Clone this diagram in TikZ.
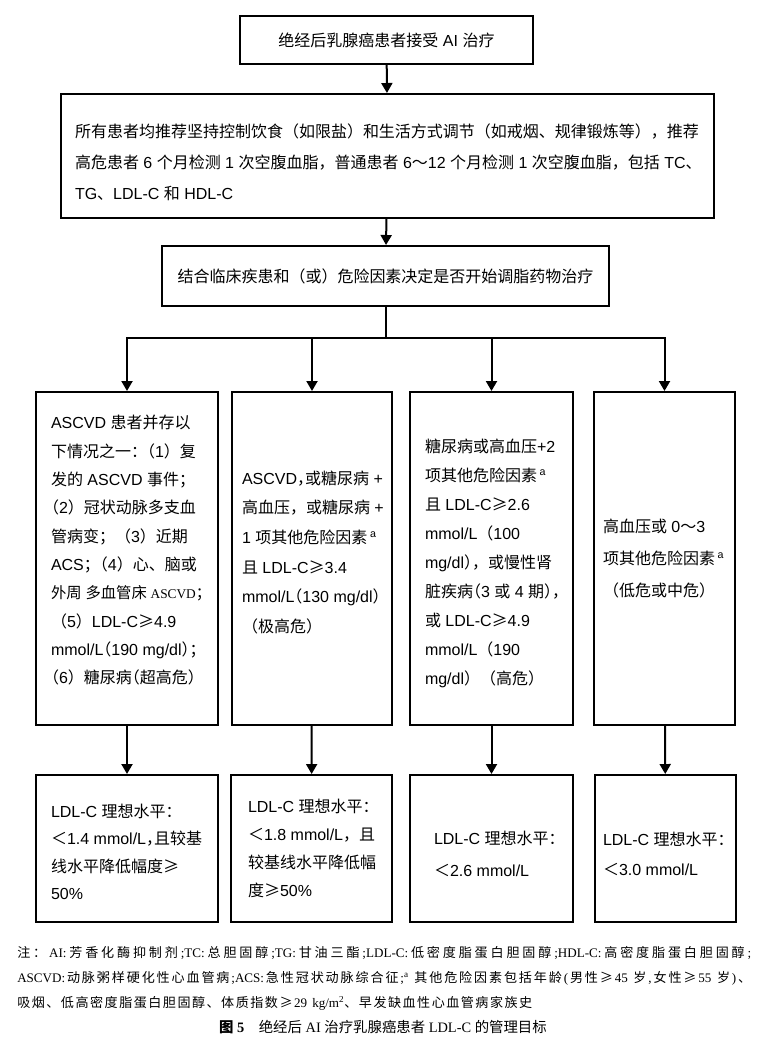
\documentclass[tikz,border=0pt]{standalone}
\usepackage{fontspec}
\setmainfont{Liberation Sans}
\newfontfamily\cjkfont{Noto Sans CJK SC}
\newfontfamily\serifl{Liberation Serif}
\usetikzlibrary{arrows.meta}
\XeTeXinterchartokenstate=1
\newXeTeXintercharclass\cjkcls
\newcount\cjkcnt
\def\setcjkrange#1#2{\cjkcnt=#1 \loop\ifnum\cjkcnt<#2 \XeTeXcharclass\cjkcnt=\cjkcls \advance\cjkcnt by 1 \repeat}
\setcjkrange{"3000}{"3040}
\setcjkrange{"4E00}{"A000}
\setcjkrange{"FF00}{"FFF0}
\XeTeXcharclass"2265=\cjkcls
\XeTeXcharclass"2264=\cjkcls
\def\latinfam{\rmfamily}
\def\cjkglue{}
\XeTeXinterchartoks 0 \cjkcls = {\cjkglue\cjkfont}
\XeTeXinterchartoks 4095 \cjkcls = {\cjkfont}
\XeTeXinterchartoks \cjkcls 0 = {\cjkglue\latinfam}
\XeTeXinterchartoks \cjkcls 4095 = {\latinfam}
\XeTeXinterchartoks \cjkcls \cjkcls = {\cjkglue}
\newcommand\setfs[2]{\fontsize{#1}{#2}\selectfont}
\newlength\linew
\newcommand\tline[1]{\makebox[\linew][l]{#1}}
\newcommand\cpl[1]{\hbox to .5em{\hss#1}}
\newcommand\cpr[1]{\hbox to .5em{#1\hss}}
\newcommand\fhgt[1]{\rule{0pt}{#1}}
\newcommand\ldep[1]{\rule[-#1]{0pt}{0pt}}
\newcommand\notefont{\let\latinfam\serifl\def\cjkglue{\hskip 0pt plus 1pt}\serifl\fontsize{9.8}{12}\selectfont}
\newcommand\capfont{\let\latinfam\serifl\serifl\fontsize{10.8}{12}\selectfont}
\begin{document}
\begin{tikzpicture}[x=0.75pt,y=-0.75pt,
  box/.style={draw, line width=1.5pt, inner sep=0pt, align=left},
  conn/.style={line width=1.5pt},
  arr/.style={line width=1.5pt, -{Triangle[length=7.5pt,width=8.25pt]}},
  note/.style={inner sep=0pt, font=\notefont}
]
\useasboundingbox (0,0) rectangle (772,1051);
% top chain
\node[box, minimum width=219.75pt, minimum height=36pt, font=\setfs{12}{20}] (b1) at (386.5,40)
  {绝经后乳腺癌患者接受 AI 治疗};
\node[box, minimum width=489.75pt, minimum height=93pt, font={\setfs{12}{23.5}\setlength\linew{468.75pt}}] (b2) at (387.5,156)
  {\tline{\fhgt{19.5pt}所有患者均推荐坚持控制饮食（如限盐）和生活方式调节（如戒烟、规律锻炼等），推荐}\\
   \tline{高危患者 6 个月检测 1 次空腹血脂，普通患者 6～12 个月检测 1 次空腹血脂，包括 TC、}\\
   \tline{TG、LDL-C 和 HDL-C}};
\node[box, minimum width=335.25pt, minimum height=45pt, font=\setfs{12}{20}] (b3) at (385.5,276)
  {结合临床疾患和（或）危险因素决定是否开始调脂药物治疗};
% middle row
\node[box, minimum width=136.5pt, minimum height=249.75pt, font={\setfs{12}{21.25}\setlength\linew{114pt}}] (mA) at (127,558.5)
  {\tline{ASCVD 患者并存以}\\
   \tline{下情况之一\cpr{：}（1）复}\\
   \tline{发的 ASCVD 事件；}\\
   \tline{\cpl{（}2）冠状动脉多支血}\\
   \tline{管病变；（3）近期}\\
   \tline{ACS\cpr{；}（4）心、脑或}\\
   \tline{{\let\latinfam\serifl\fontsize{11.5}{21.25}\selectfont 外周 多血管床 {\fontsize{10}{21.25}\selectfont ASCVD}；}}\\
   \tline{（5）LDL-C≥4.9}\\
   \tline{mmol/L\cpl{（}190 mg/dl\cpr{）}\cpr{；}}\\
   \tline{\cpl{（}6）糖尿病\cpl{（}超高危\cpr{）}\ldep{13.5pt}}};
\node[box, minimum width=120pt, minimum height=249.75pt, font={\setfs{12}{22.2}\setlength\linew{105pt}}] (mB) at (312,558.5)
  {\tline{ASCVD\cpr{，}或糖尿病 +}\\
   \tline{高血压，或糖尿病 +}\\
   \tline{1 项其他危险因素\,\textsuperscript{a}}\\
   \tline{且 LDL-C≥3.4}\\
   \tline{mmol/L\cpl{（}130 mg/dl\cpr{）}}\\
   \tline{（极高危）\ldep{10.5pt}}};
\node[box, minimum width=122.25pt, minimum height=249.75pt, font={\setfs{12}{21.8}\setlength\linew{99.75pt}}] (mC) at (491.5,558.5)
  {\tline{\fhgt{17.25pt}糖尿病或高血压+2}\\
   \tline{项其他危险因素\,\textsuperscript{a}}\\
   \tline{且 LDL-C≥2.6}\\
   \tline{mmol/L（100}\\
   \tline{mg/dl\cpr{）}，或慢性肾}\\
   \tline{脏疾病\cpl{（}3 或 4 期\cpr{）}\cpr{，}}\\
   \tline{或 LDL-C≥4.9}\\
   \tline{mmol/L（190}\\
   \tline{mg/dl）（高危）}};
\node[box, minimum width=105.75pt, minimum height=249.75pt, font={\setfs{12}{24}\setlength\linew{92.25pt}}] (mD) at (664.5,558.5)
  {\tline{高血压或 0～3}\\
   \tline{项其他危险因素\,\textsuperscript{a}}\\
   \tline{（低危或中危）}};
% bottom row
\node[box, minimum width=136.5pt, minimum height=110.25pt, font={\setfs{12}{20.5}\setlength\linew{114pt}}] (lA) at (127,848.5)
  {\tline{\fhgt{15pt}LDL-C 理想水平：}\\
   \tline{＜1.4 mmol/L\cpr{，}且较基}\\
   \tline{线水平降低幅度≥}\\
   \tline{50\%}};
\node[box, minimum width=120.75pt, minimum height=110.25pt, font={\setfs{12}{21}\setlength\linew{95.25pt}}] (lB) at (311.5,848.5)
  {\tline{LDL-C 理想水平：}\\
   \tline{＜1.8 mmol/L，且}\\
   \tline{较基线水平降低幅}\\
   \tline{度≥50\%}};
\node[box, minimum width=122.25pt, minimum height=110.25pt, font={\setfs{12}{24}\setlength\linew{86.25pt}}] (lC) at (491.5,848.5)
  {\tline{\fhgt{18pt}LDL-C 理想水平：}\\
   \tline{＜2.6 mmol/L}};
\node[box, minimum width=105.75pt, minimum height=110.25pt, font={\setfs{12}{22.5}\setlength\linew{93.75pt}}] (lD) at (665.5,848.5)
  {\tline{\fhgt{18pt}LDL-C 理想水平：}\\
   \tline{＜3.0 mmol/L}};
% connectors
\coordinate (bus) at (386,338);
\draw[arr] (b1) -- (b2);
\draw[arr] (b2) -- (b3);
\draw[conn] (b3.south) -- (b3.south |- bus);
\draw[conn] ([xshift=-0.75pt]mA.north |- bus) -- ([xshift=0.75pt]mD.north |- bus);
\draw[arr] (mA.north |- bus) -- (mA.north);
\draw[arr] (mB.north |- bus) -- (mB.north);
\draw[arr] (mC.north |- bus) -- (mC.north);
\draw[arr] (mD.north |- bus) -- (mD.north);
\draw[arr] (mA) -- (lA);
\draw[arr] (mB) -- (lB);
\draw[arr] (mC) -- (lC);
\draw[arr] (mD) -- (lD);
% notes
\node[note, anchor=west] (n1) at (17,953)
  {\makebox[550.5pt][s]{注：AI:芳香化酶抑制剂;TC:总胆固醇;TG:甘油三酯;LDL-C:低密度脂蛋白胆固醇;HDL-C:高密度脂蛋白胆固醇;}};
\node[note, anchor=west] (n2) at (17,978)
  {\makebox[550.5pt][s]{ASCVD:动脉粥样硬化性心血管病;ACS:急性冠状动脉综合征;\textsuperscript{a} 其他危险因素包括年龄(男性≥45 岁,女性≥55 岁)、}};
\node[note, anchor=west] (n3) at (17,1003)
  {\makebox[386.25pt][s]{吸烟、低高密度脂蛋白胆固醇、体质指数≥29 kg/m\textsuperscript{2}、早发缺血性心血管病家族史}};
\node[inner sep=0pt, font=\capfont] (cap) at (383,1027)
  {{\bfseries 图 5}\hspace{1em}绝经后 AI 治疗乳腺癌患者 LDL-C 的管理目标};
\end{tikzpicture}
\end{document}
